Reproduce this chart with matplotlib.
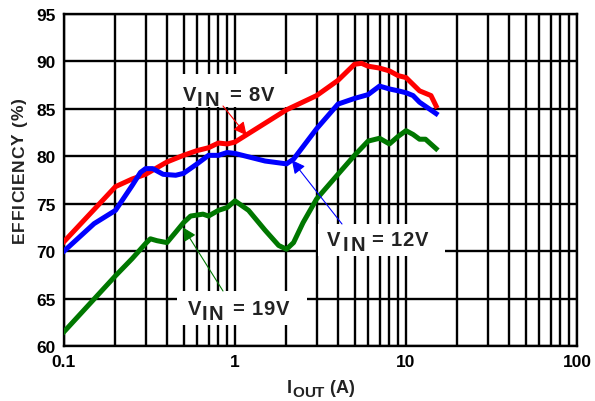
import numpy as np
import matplotlib.pyplot as plt
from matplotlib.patches import Rectangle

plt.rcParams['font.family'] = ['Liberation Sans', 'DejaVu Sans']

# output current (A) and efficiency (%) for each input voltage
i_8v = [0.1, 0.2, 0.25, 0.3, 0.4, 0.5, 0.6, 0.7, 0.8, 0.9, 1.0, 2.0, 3.0, 4.0,
        5.0, 5.5, 6.0, 7.0, 8.0, 9.0, 10.0, 12.0, 14.0, 15.0]
eff_8v = [71.0, 76.8, 77.6, 78.1, 79.4, 80.1, 80.6, 80.9, 81.4, 81.3, 81.5, 84.9,
          86.4, 88.0, 89.7, 89.8, 89.5, 89.3, 89.0, 88.5, 88.3, 86.9, 86.4, 85.3]

i_12v = [0.1, 0.15, 0.2, 0.25, 0.28, 0.3, 0.33, 0.38, 0.45, 0.5, 0.6, 0.7, 0.8,
         0.9, 1.0, 1.5, 2.0, 2.2, 3.0, 4.0, 5.0, 6.0, 7.0, 8.0, 9.0, 10.0, 11.0,
         12.0, 15.0]
eff_12v = [70.0, 72.9, 74.3, 76.9, 78.3, 78.7, 78.7, 78.1, 78.0, 78.2, 79.2, 80.1,
           80.1, 80.4, 80.3, 79.5, 79.2, 79.7, 82.9, 85.5, 86.1, 86.5, 87.4, 87.1,
           86.9, 86.7, 86.4, 85.7, 84.5]

i_19v = [0.1, 0.2, 0.25, 0.3, 0.32, 0.35, 0.4, 0.45, 0.5, 0.55, 0.65, 0.7, 0.8,
         0.9, 1.0, 1.2, 1.5, 1.8, 2.0, 2.2, 2.5, 3.0, 4.0, 5.0, 6.0, 7.0, 8.0,
         9.0, 10.0, 11.0, 12.0, 13.0, 15.0]
eff_19v = [61.5, 67.4, 69.2, 70.8, 71.3, 71.1, 70.9, 72.0, 73.0, 73.7, 73.9, 73.7,
           74.3, 74.6, 75.3, 74.3, 72.2, 70.6, 70.2, 70.9, 73.0, 75.5, 78.1, 80.1,
           81.6, 81.9, 81.3, 82.1, 82.7, 82.3, 81.8, 81.8, 80.8]

y_ticks = [60, 65, 70, 75, 80, 85, 90, 95]
x_ticks = [0.1, 1, 10, 100]
x_labels = ['0.1', '1', '10', '100']

W, H = 595, 402
fig = plt.figure(figsize=(W / 100, H / 100), dpi=100)
ax = fig.add_axes([64 / W, 1 - 347 / H, (577 - 64) / W, (347 - 15) / H])
renderer = fig.canvas.get_renderer()

ax.set_xscale('log')
ax.set_xlim(0.1, 100)
ax.set_ylim(60, 95)
ax.set_xticks(x_ticks)
ax.set_xticklabels(x_labels)
ax.set_yticks(y_ticks)
ax.grid(True, which='both', color='black', linewidth=1.7)
ax.tick_params(which='both', length=0, labelsize=12.5, pad=6)
for lab in ax.get_xticklabels() + ax.get_yticklabels():
    lab.set_fontweight('bold')
for sp in ax.spines.values():
    sp.set_linewidth(1.7)

ax.plot(i_8v, eff_8v, color='#ff0000', lw=3.6, zorder=3)
ax.plot(i_12v, eff_12v, color='#0000ff', lw=3.6, zorder=3)
ax.plot(i_19v, eff_19v, color='#007700', lw=3.6, zorder=3)


def spaced(x, y, s, size, gap=1.0, rot=0, color='#222222'):
    # draw text letter by letter; x, y in pixels from top-left, y = baseline
    for ch in s:
        t = fig.text(x / W, 1 - y / H, ch, fontsize=size, fontweight='bold',
                     color=color, ha='left', va='baseline', rotation=rot,
                     rotation_mode='anchor', zorder=5)
        bb = t.get_window_extent(renderer)
        w = bb.height if rot else bb.width
        if ch == ' ':
            w = size * 0.278 * 100 / 72
        if rot:
            y -= w + gap
        else:
            x += w + gap


def white_box(x0, y0, x1, y1):
    ax.add_patch(Rectangle((x0, H - y1), x1 - x0, y1 - y0, transform=None,
                           fc='white', ec='none', zorder=2))


def arrow(tip, tail, color):
    ax.annotate('', xy=tip, xycoords='data', xytext=(tail[0], H - tail[1]),
                textcoords='figure pixels', zorder=4,
                arrowprops=dict(arrowstyle='-|>', color=color, lw=0.8,
                                mutation_scale=20, shrinkA=0, shrinkB=0))


# VIN = 8V
white_box(176, 75, 296, 108)
spaced(183, 101, 'V', 14.5)
spaced(197, 106, 'IN', 14.5, gap=1.5)
spaced(229, 101, '= 8V', 14.5)
arrow((1.17, 82.2), (223, 107), '#ff0000')

# VIN = 12V
white_box(318, 225, 445, 257)
spaced(327, 246, 'V', 14.5)
spaced(343, 251, 'IN', 14.5, gap=1.5)
spaced(371, 246, '= 12V', 14.5)
arrow((2.15, 79.6), (342, 225), '#0000ff')

# VIN = 19V
white_box(177, 292, 307, 326)
spaced(188, 315, 'V', 14.5)
spaced(202, 320, 'IN', 14.5, gap=1.5)
spaced(232, 315, '= 19V', 14.5)
arrow((0.497, 72.5), (223, 292), '#007700')

# axis titles
spaced(24, 243, 'EFFICIENCY (%)', 12.5, gap=0.8, rot=90)
spaced(287, 393, 'I', 13, gap=0.5)
spaced(292, 397, 'OUT', 11, gap=0.0)
spaced(329, 393, '(A)', 13, gap=0.3)

fig.savefig('out.png', dpi=100)
